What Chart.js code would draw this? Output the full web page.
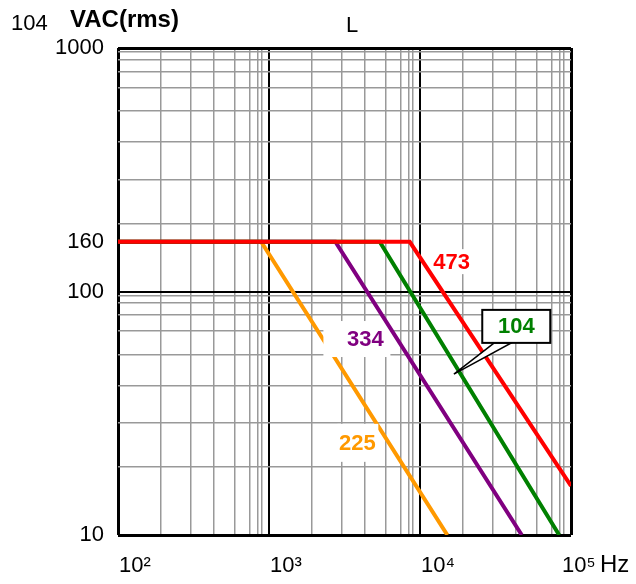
<!DOCTYPE html>
<html><head><meta charset="utf-8">
<script src="https://cdn.jsdelivr.net/npm/chart.js@4/dist/chart.umd.min.js"></script>
<style>html,body{margin:0;padding:0;background:#fff;}#wrap{width:636px;height:584px;position:relative;}</style>
</head><body><div id="wrap"><canvas id="c" width="636" height="584"></canvas></div>
<script>
// ---- data ----
const seriesNames = ['473', '104', '334', '225'];
const seriesColors = ['#FF0000', '#008000', '#800080', '#FF9900'];
const freq473 = [100, 8550, 100000];
const volt473 = [160, 160, 15.9];
const freq104 = [100, 5410, 83500];
const volt104 = [160, 160, 10];
const freq334 = [100, 2750, 47200];
const volt334 = [160, 160, 10];
const freq225 = [100, 887, 15170];
const volt225 = [160, 160, 10];

const xTickValues = [100, 1000, 10000, 100000];
const xTickLabels = ['10²', '10³', '10⁴', '10⁵'];
const yTickValues = [10, 100, 160, 1000];
const yTickLabels = ['10', '100', '160', '1000'];
const xMinorFactors = [1.93, 3.01, 4.31, 5.94, 7.4, 8.41, 9.02];
const yMinorFactors = [1.9, 2.88, 4.12, 5.5, 6.89, 8.02, 8.97, 9.62];

const FONT = '"Liberation Sans", Arial, sans-serif';

function pts(fs, vs) { return fs.map((f, i) => ({ x: f, y: vs[i] })); }
const seriesData = [pts(freq473, volt473), pts(freq104, volt104), pts(freq334, volt334), pts(freq225, volt225)];

function isDecade(v) { const l = Math.log10(v); return Math.abs(l - Math.round(l)) < 1e-9; }
function gridTicks(minExp, maxExp, factors, extra) {
  const out = [];
  for (let e = minExp; e < maxExp; e++) {
    out.push(Math.pow(10, e));
    factors.forEach(f => out.push(f * Math.pow(10, e)));
  }
  out.push(Math.pow(10, maxExp));
  (extra || []).forEach(v => out.push(v));
  return out.sort((a, b) => a - b).map(v => ({ value: v }));
}

function gridColor(ctx) {
  const v = ctx.tick ? ctx.tick.value : 0;
  if (v === 160) return 'rgba(0,0,0,0)';
  return isDecade(v) ? '#000' : '#999';
}

const labelPlugin = {
  id: 'labels',
  afterDatasetDraw(chart, args) {
    if (args.index !== 3) return;
    const xs = chart.scales.x, ys = chart.scales.y, ctx = chart.ctx;
    const items = [
      { t: '473', c: seriesColors[0], f: 16190, v: 132, box: [-21, 22, -13, 12] },
      { t: '334', c: seriesColors[2], f: 4350, v: 63.8, box: [-42, 25, -18, 18] },
      { t: '225', c: seriesColors[3], f: 3845, v: 23.9, box: [-20, 21, -19, 19] }
    ];
    ctx.save();
    items.forEach(it => {
      const px = xs.getPixelForValue(it.f), py = ys.getPixelForValue(it.v);
      ctx.fillStyle = '#fff';
      ctx.fillRect(px + it.box[0], py + it.box[2], it.box[1] - it.box[0], it.box[3] - it.box[2]);
      ctx.fillStyle = it.c;
      ctx.font = 'bold 22px ' + FONT;
      ctx.textAlign = 'center';
      ctx.textBaseline = 'middle';
      ctx.fillText(it.t, px, py + 1);
    });
    ctx.restore();
  },
  afterDraw(chart) {
    const xs = chart.scales.x, ys = chart.scales.y, ctx = chart.ctx;
    ctx.save();
    // callout for 104
    const cx = xs.getPixelForValue(43400), cy = ys.getPixelForValue(71.9);
    const tx = xs.getPixelForValue(16770), ty = ys.getPixelForValue(45.8);
    const w = 68, h = 33;
    const bx = cx - w / 2, by = cy - h / 2;
    ctx.beginPath();
    ctx.moveTo(cx - 22, by + h);
    ctx.lineTo(tx, ty);
    ctx.lineTo(cx - 5, by + h);
    ctx.closePath();
    ctx.fillStyle = '#fff';
    ctx.fill();
    ctx.lineWidth = 1.5;
    ctx.strokeStyle = '#000';
    ctx.stroke();
    ctx.fillStyle = '#fff';
    ctx.fillRect(bx, by, w, h);
    ctx.lineWidth = 2;
    ctx.strokeRect(bx, by, w, h);
    ctx.fillStyle = seriesColors[1];
    ctx.font = 'bold 22px ' + FONT;
    ctx.textAlign = 'center';
    ctx.textBaseline = 'middle';
    ctx.fillText(seriesNames[1], cx, cy + 1);

    // x tick labels
    ctx.fillStyle = '#000';
    ctx.font = '22px ' + FONT;
    ctx.textAlign = 'left';
    ctx.textBaseline = 'middle';
    const ly = chart.chartArea.bottom + 31;
    xTickValues.forEach((v, i) => {
      let px = xs.getPixelForValue(v) + 1;
      if (i === xTickValues.length - 1) px -= 10;
      ctx.fillText(xTickLabels[i], px, ly);
    });
    ctx.font = '24px ' + FONT;
    ctx.fillText('Hz', chart.chartArea.right + 29, ly - 1);

    // header texts
    ctx.font = '22px ' + FONT;
    ctx.fillText('104', 11, 24);
    ctx.font = 'bold 24px ' + FONT;
    ctx.fillText('VAC(rms)', 70, 20);
    ctx.font = '22px ' + FONT;
    ctx.fillText('L', 346, 26);
    ctx.restore();
  }
};

new Chart(document.getElementById('c'), {
  type: 'line',
  data: {
    datasets: seriesData.map((d, i) => ({
      label: seriesNames[i],
      data: d,
      borderColor: seriesColors[i],
      backgroundColor: seriesColors[i],
      borderWidth: 4,
      pointRadius: 0,
      fill: false,
      tension: 0
    }))
  },
  options: {
    responsive: false,
    animation: false,
    events: [],
    layout: { padding: { top: 48, right: 65, bottom: 0, left: 0 } },
    plugins: { legend: { display: false }, tooltip: { enabled: false }, title: { display: false } },
    scales: {
      x: {
        type: 'logarithmic',
        min: 100, max: 100000,
        border: { display: false },
        grid: {
          drawTicks: false,
          color: gridColor,
          lineWidth: ctx => {
            const v = ctx.tick ? ctx.tick.value : 0;
            if (v === 100 || v === 100000) return 3;
            return isDecade(v) ? 2 : 1.5;
          }
        },
        ticks: { display: false },
        afterBuildTicks: s => { s.ticks = gridTicks(2, 5, xMinorFactors); },
        afterFit: s => { s.height = 49; }
      },
      y: {
        type: 'logarithmic',
        min: 10, max: 1000,
        border: { display: false },
        grid: {
          drawTicks: false,
          color: gridColor,
          lineWidth: ctx => {
            const v = ctx.tick ? ctx.tick.value : 0;
            if (v === 10 || v === 1000) return 3;
            return isDecade(v) ? 2 : 1.5;
          }
        },
        ticks: {
          autoSkip: false,
          padding: 14,
          color: '#000',
          font: { family: FONT, size: 22 },
          callback: v => { const i = yTickValues.indexOf(v); return i >= 0 ? yTickLabels[i] : ''; }
        },
        afterBuildTicks: s => { s.ticks = gridTicks(1, 3, yMinorFactors, [160]); },
        afterFit: s => { s.width = 118; }
      }
    }
  },
  plugins: [labelPlugin]
});
</script>
</body></html>
